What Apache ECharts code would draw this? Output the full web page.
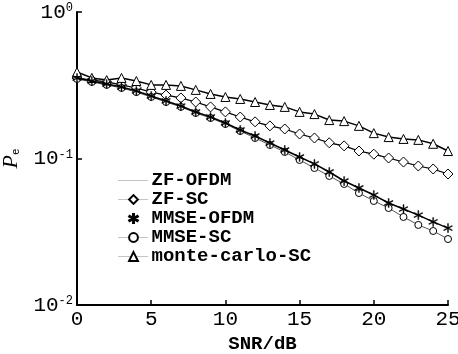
<!DOCTYPE html>
<html>
<head>
<meta charset="utf-8">
<script src="https://cdn.jsdelivr.net/npm/echarts@6/dist/echarts.min.js"></script>
<style>html,body{margin:0;padding:0;background:#fff;}#c{width:458px;height:354px;}</style>
</head>
<body>
<div id="c"></div>
<script>
var snr = [0,1,2,3,4,5,6,7,8,9,10,11,12,13,14,15,16,17,18,19,20,21,22,23,24,25];
var zfOfdm = [0.352,0.342,0.332,0.317,0.302,0.283,0.270,0.258,0.242,0.224,0.207,0.191,0.177,0.166,0.158,0.146,0.137,0.127,0.121,0.112,0.106,0.1005,0.0943,0.0886,0.0845,0.0781];
var zfSc = [0.354,0.343,0.333,0.318,0.303,0.284,0.271,0.259,0.243,0.225,0.208,0.192,0.178,0.167,0.159,0.147,0.138,0.128,0.122,0.1125,0.107,0.1008,0.0946,0.0889,0.0848,0.0784];
var mmseOfdm = [0.354,0.338,0.3225,0.3077,0.289,0.267,0.247,0.228,0.2077,0.192,0.1747,0.1565,0.1424,0.1275,0.1143,0.1024,0.0918,0.0809,0.0702,0.0629,0.0563,0.0497,0.0452,0.0411,0.0369,0.0335];
var mmseSc = [0.349,0.333,0.318,0.303,0.284,0.263,0.243,0.225,0.2045,0.189,0.172,0.154,0.138,0.1236,0.1108,0.0977,0.0861,0.076,0.067,0.0581,0.0513,0.0459,0.0399,0.0352,0.032,0.0282];
var monteCarlo = [0.389,0.355,0.343,0.355,0.338,0.318,0.318,0.313,0.294,0.276,0.263,0.255,0.243,0.232,0.225,0.208,0.201,0.183,0.180,0.167,0.149,0.140,0.136,0.134,0.126,0.1125];
var seriesNames = ['ZF-OFDM','ZF-SC','MMSE-OFDM','MMSE-SC','monte-carlo-SC'];
var xTicks = [0,5,10,15,20,25];

function pairs(ys){ return snr.map(function(x,i){ return [x, ys[i]]; }); }
var FONT = 'Liberation Mono';
var asterisk = 'path://M9,0L11,0L11,20L9,20Z M0.84,5.87L1.84,4.13L19.16,14.13L18.16,15.87Z M0.84,14.13L18.16,4.13L19.16,5.87L1.84,15.87Z';

var chart = echarts.init(document.getElementById('c'));
chart.setOption({
  animation: false,
  backgroundColor: '#fff',
  grid: {left: 77, right: 10, top: 12, bottom: 49, containLabel: false, outerBoundsMode: 'none'},
  legend: {
    orient: 'vertical', left: 118, top: 171, padding: 0, itemGap: 0,
    itemWidth: 30, itemHeight: 11,
    textStyle: {fontFamily: FONT, fontWeight: 'bold', fontSize: 19, color: '#000', lineHeight: 18.5, padding: [0,0,0,-2]},
    lineStyle: {type: 'dotted', color: '#888', width: 1},
    data: [
      {name: seriesNames[0], itemStyle: {opacity: 0}},
      {name: seriesNames[1]},
      {name: seriesNames[2], lineStyle: {opacity: 0}},
      {name: seriesNames[3]},
      {name: seriesNames[4]}
    ]
  },
  xAxis: {
    type: 'value', min: 0, max: 25, interval: 5,
    name: 'SNR/dB', nameLocation: 'middle', nameGap: 30,
    nameTextStyle: {fontFamily: FONT, fontWeight: 'bold', fontSize: 19, color: '#000'},
    axisLine: {lineStyle: {color: '#000', width: 2}},
    axisTick: {inside: true, length: 5, lineStyle: {color: '#000', width: 1.5}},
    axisLabel: {fontFamily: FONT, fontSize: 21, color: '#000', margin: 4,
      formatter: function(v){ return xTicks.indexOf(v) >= 0 ? String(v) : ''; }},
    splitLine: {show: false}
  },
  yAxis: {
    type: 'log', logBase: 10, min: 0.01, max: 1,
    name: '{i|P}{s|e}', nameLocation: 'middle', nameGap: 52, nameRotate: 90,
    nameTextStyle: {rich: {
      i: {fontFamily: 'Liberation Serif', fontStyle: 'italic', fontSize: 22, color: '#000'},
      s: {fontFamily: FONT, fontSize: 11, color: '#000', padding: [10,0,0,0]}
    }},
    axisLine: {show: true, lineStyle: {color: '#000', width: 2}},
    axisTick: {inside: true, length: 5, lineStyle: {color: '#000', width: 1.5}},
    minorTick: {show: false},
    axisLabel: {margin: 4,
      formatter: function(v){ var e = Math.round(Math.log10(v)); return '{b|10}{s|' + e + '}'; },
      rich: {
        b: {fontFamily: FONT, fontSize: 21, color: '#000', lineHeight: 20, verticalAlign: 'middle'},
        s: {fontFamily: FONT, fontSize: 12, color: '#000', lineHeight: 12, verticalAlign: 'top'}
      }},
    splitLine: {show: false}
  },
  series: [
    {name: seriesNames[0], type: 'line', data: pairs(zfOfdm), symbol: 'none',
      lineStyle: {color: '#666', width: 0.8, type: 'dotted'}, itemStyle: {color: '#fff', borderColor: '#000'}, z: 2},
    {name: seriesNames[1], type: 'line', data: pairs(zfSc), symbol: 'diamond', symbolSize: 10,
      lineStyle: {color: '#000', width: 1.2}, itemStyle: {color: '#fff', borderColor: '#000', borderWidth: 1}, z: 3},
    {name: seriesNames[2], type: 'line', data: pairs(mmseOfdm), symbol: asterisk, symbolSize: 9,
      lineStyle: {color: '#000', width: 1.5}, itemStyle: {color: '#000', borderColor: '#000', borderWidth: 0.4}, z: 4},
    {name: seriesNames[3], type: 'line', data: pairs(mmseSc), symbol: 'circle', symbolSize: 7,
      lineStyle: {color: '#444', width: 0.9}, itemStyle: {color: '#fff', borderColor: '#000', borderWidth: 1}, z: 3},
    {name: seriesNames[4], type: 'line', data: pairs(monteCarlo), symbol: 'triangle', symbolSize: 9,
      lineStyle: {color: '#000', width: 1.5}, itemStyle: {color: '#fff', borderColor: '#000', borderWidth: 1}, z: 3}
  ]
});
</script>
</body>
</html>
